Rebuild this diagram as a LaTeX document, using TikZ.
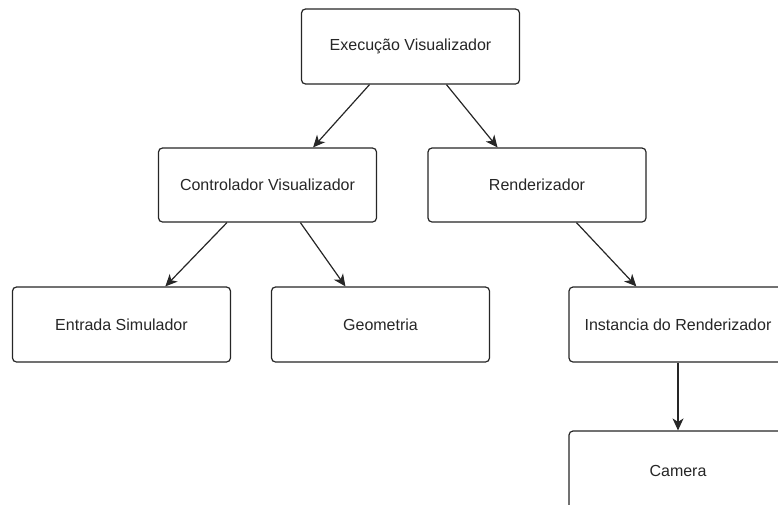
\documentclass[tikz,border=0pt]{standalone}
\usepackage{fontspec}
\setmainfont{Liberation Sans}
\usetikzlibrary{arrows.meta,calc}
\begin{document}
\begin{tikzpicture}[x=1pt,y=-1pt,
  box/.style={draw=black!85, line width=1.2pt, rounded corners=4pt, fill=white,
    minimum width=218pt, minimum height=75pt, inner sep=0pt,
    font=\fontsize{16}{19}\selectfont, text=black!85},
  link/.style={draw=black!85, line width=1.2pt,
    -{Stealth[length=12pt,width=11pt,inset=3.5pt]}}]
  \useasboundingbox (0,0) rectangle (778,504);
  \clip (0,0) rectangle (778,504);

  % tree of components
  \node[box] (exec) at (410.5,46.5) {Execução Visualizador};
  \node[box, minimum height=74pt] (ctrl) at (267.5,185) {Controlador Visualizador};
  \node[box, minimum height=74pt] (rend) at (537,185) {Renderizador};
  \node[box] (entr) at (121.5,324.5) {Entrada Simulador};
  \node[box] (geom) at (380.5,324.5) {Geometria};
  \node[box] (inst) at (678,324.5) {Instancia do Renderizador};
  \node[box, minimum height=80pt] (cam) at (678,471) {Camera};

  % connectors
  \draw[link] ($(exec.south west)!0.313!(exec.south east)$) -- ($(ctrl.north west)!0.708!(ctrl.north east)$);
  \draw[link] ($(exec.south west)!0.664!(exec.south east)$) -- ($(rend.north west)!0.32!(rend.north east)$);
  \draw[link] ($(ctrl.south west)!0.315!(ctrl.south east)$) -- ($(entr.north west)!0.70!(entr.north east)$);
  \draw[link] ($(ctrl.south west)!0.65!(ctrl.south east)$) -- ($(geom.north west)!0.34!(geom.north east)$);
  \draw[link] ($(rend.south west)!0.68!(rend.south east)$) -- ($(inst.north west)!0.31!(inst.north east)$);
  \draw[link] (inst.south) -- (cam.north);
\end{tikzpicture}
\end{document}
